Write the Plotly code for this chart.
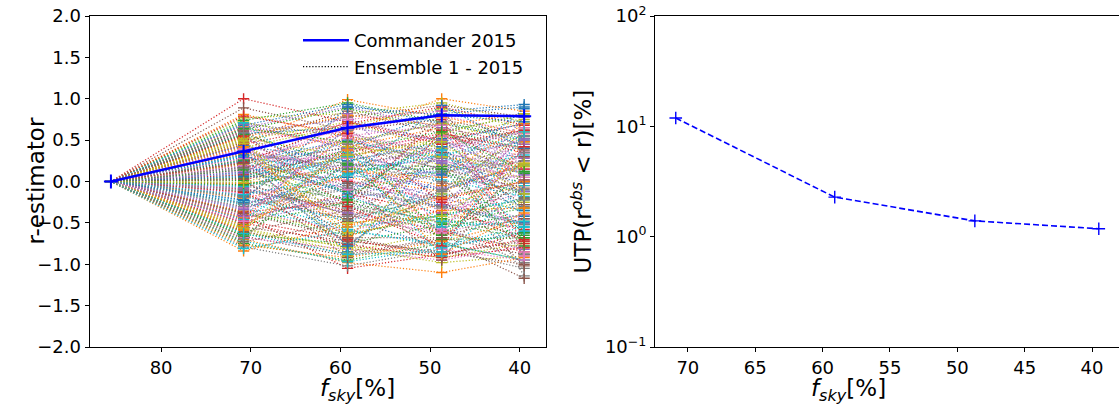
import plotly.graph_objects as go

# ---- data ----
fsky = [85.6, 70.8, 59.2, 48.7, 39.5]
commander_r = [0.0, 0.36, 0.65, 0.80, 0.79]
utp_fsky = [70.9, 59.1, 48.7, 39.5]
utp_percent = [11.9, 2.28, 1.39, 1.18]

r_86 = 0.0
r_71 = [0.25, 0.81, -0.12, 1.00, 0.44, 0.89, -0.35, 0.05, -0.58, 0.31,
        -0.22, -0.84, 0.63, -0.41, 0.12, -0.66, 0.38, -0.05, 0.72, -0.28,
        0.18, 0.47, -0.75, 0.02, -0.49, 0.56, -0.15, 0.28, -0.62, 0.09,
        0.68, 0.22, -0.38, -0.09, 0.51, -0.55, 0.15, -0.31, 0.77, -0.18,
        0.35, -0.70, 0.04, -0.45, 0.60, -0.02, 0.27, -0.79, 0.41, -0.25,
        0.11, 0.66, -0.52, 0.20, -0.11, 0.48, -0.68, 0.33, -0.36, 0.07,
        0.58, -0.20, 0.74, -0.47, 0.14, -0.60, 0.39, -0.07, 0.53, -0.33,
        0.24, -0.77, 0.01, 0.45, -0.43, 0.17, -0.14, 0.70, -0.57, 0.30,
        -0.26, 0.54, -0.64, 0.08, 0.36, -0.39, 0.62, -0.10, 0.21, -0.72,
        0.43, -0.03, 0.26, -0.50, 0.65, -0.17, 0.13, -0.30, 0.50, -0.81,
        0.32, -0.44, 0.57, -0.13, 0.69, -0.61, 0.19, -0.27, 0.46, -0.06,
        0.29, -0.53, 0.64, -0.37, 0.10, -0.73, 0.40, -0.19, 0.52, -0.46,
        0.06, 0.34, -0.66, 0.23, -0.08, 0.61, -0.32, 0.16, -0.56, 0.71,
        -0.23, 0.42, -0.04, 0.55, -0.42, 0.03, 0.28, -0.69, 0.49, -0.16,
        0.37, -0.59, 0.14, 0.79, -0.34, 0.22, -0.48, 0.59, -0.01, -0.63]
r_59 = [0.40, 0.55, -0.30, 0.72, 0.10, 0.62, -0.60, 0.25, -0.85, 0.05,
        -0.45, -0.52, 0.88, -1.05, 0.35, -0.90, 0.15, -0.28, 0.45, 0.08,
        -0.12, 0.99, -0.95, 0.30, -0.20, 0.78, 0.02, -0.05, -0.78, 0.48,
        0.93, 0.60, -0.65, -0.35, 0.20, -0.72, 0.52, -0.10, 0.82, -0.48,
        0.12, -0.98, 0.38, -0.15, 0.75, -0.40, 0.58, -1.02, 0.68, -0.55,
        0.32, 0.42, -0.25, 0.00, -0.38, 0.85, -0.82, 0.18, -0.62, 0.28,
        0.65, 0.05, 0.95, -0.70, -0.08, -0.88, 0.62, 0.22, 0.30, -0.58,
        0.50, -0.92, -0.22, 0.70, -0.18, 0.42, -0.42, 0.55, -0.80, 0.10,
        -0.02, 0.80, -0.75, 0.35, 0.15, -0.68, 0.45, -0.32, 0.48, -0.97,
        0.25, 0.18, -0.12, -0.76, 0.90, -0.45, 0.38, -0.08, 0.72, -0.60,
        -0.15, 0.58, 0.20, -0.72, 0.40, -0.35, 0.68, -0.05, -0.62, 0.30,
        -0.85, 0.12, 0.48, -0.25, 0.82, -0.48, -0.10, 0.62, -0.90, 0.35,
        0.05, -0.55, 0.22, 0.72, -0.38, -0.02, 0.55, -0.75, 0.42, -0.18,
        0.90, -0.66, 0.15, -0.30, 0.65, -0.92, 0.28, 0.45, -0.50, 0.08,
        -0.78, 0.38, -0.22, 0.58, 0.18, -0.68, 0.75, -0.42, 0.32, -0.88]
r_49 = [0.85, 0.30, -0.55, 0.50, -0.20, 0.75, -0.35, 0.45, -0.62, 0.12,
        -0.80, -0.28, 0.62, -0.88, 0.05, -0.70, 0.40, -0.48, 0.20, 0.32,
        -0.30, 0.78, -0.75, 0.55, -0.05, 0.92, -0.25, 0.18, -0.92, 0.28,
        0.70, 1.00, -0.40, -0.60, 0.38, -0.85, 0.25, -0.32, 0.95, -0.15,
        -0.10, -1.10, 0.60, -0.38, 0.48, -0.65, 0.35, -0.82, 0.88, -0.42,
        0.08, 0.65, -0.50, -0.22, -0.58, 0.58, -0.95, 0.42, -0.45, 0.02,
        0.82, -0.12, 0.72, -0.90, 0.15, -0.68, 0.80, 0.00, 0.52, -0.78,
        0.22, -0.72, -0.45, 0.90, 0.10, 0.15, -0.62, 0.35, -0.98, 0.32,
        -0.28, 0.68, -0.52, 0.58, -0.08, -0.88, 0.25, -0.55, 0.70, -0.80,
        0.48, -0.05, 0.12, -0.92, 0.65, -0.18, 0.55, -0.30, 0.40, -0.75,
        0.52, -0.72, 0.18, 0.62, -0.38, 0.85, -0.58, 0.28, -0.15, -0.90,
        0.42, 0.05, -0.65, 0.75, -0.28, 0.35, -0.82, 0.12, 0.58, -0.48,
        0.92, -0.20, -0.70, 0.45, 0.22, -0.95, 0.68, -0.10, 0.30, -0.55,
        0.80, -0.35, 0.15, -0.78, 0.50, -0.02, -0.62, 0.72, -0.42, 0.38,
        0.08, -0.88, 0.60, -0.25, 0.25, -0.68, 0.85, -0.12, 0.48, -0.85]
r_40 = [0.93, 0.10, -0.40, 0.70, -0.45, 0.55, -0.15, -1.14, -0.80, 0.32,
        -0.60, -0.05, 0.40, -0.70, 0.25, -1.17, 0.62, -0.28, 0.05, 0.48,
        -0.52, 0.58, -0.95, 0.35, 0.15, 0.78, -0.50, 0.42, -0.75, 0.10,
        0.50, 0.85, -0.22, -0.85, 0.60, -1.00, 0.02, -0.10, 0.72, -0.35,
        0.20, -0.92, 0.80, -0.58, 0.28, -0.45, 0.15, -1.05, 0.65, -0.20,
        -0.12, 0.45, -0.68, 0.00, -0.82, 0.38, -0.78, 0.62, -0.25, -0.18,
        0.90, 0.22, 0.52, -0.62, 0.35, -0.88, 0.58, -0.30, 0.75, -0.55,
        -0.02, -0.48, -0.65, 0.68, 0.30, -0.08, -0.40, 0.12, -0.90, 0.55,
        -0.50, 0.82, -0.32, 0.40, 0.08, -0.72, 0.05, -0.98, 0.48, -0.62,
        0.70, 0.18, -0.15, -0.80, 0.45, 0.00, 0.30, -0.52, 0.20, -0.95,
        -0.35, 0.48, -0.62, 0.15, 0.78, -0.20, 0.35, -0.88, 0.60, -0.05,
        -0.42, 0.70, 0.10, -0.75, 0.52, -0.28, -0.95, 0.25, 0.82, -0.55,
        0.40, 0.00, -0.68, 0.62, -0.12, 0.30, -0.85, 0.55, 0.18, -0.48,
        0.72, -0.32, -0.78, 0.42, 0.08, -1.02, 0.65, -0.22, 0.22, -0.60,
        0.88, -0.38, 0.12, -0.72, 0.50, 0.02, -0.90, 0.35, -0.15, 0.60]

x_ticks_left = [80, 70, 60, 50, 40]
x_ticks_right = [70, 65, 60, 55, 50, 45, 40]
y_ticks_left = [-2.0, -1.5, -1.0, -0.5, 0.0, 0.5, 1.0, 1.5, 2.0]
y_ticks_right = [0.1, 1, 10, 100]
y_ticktext_right = ["10<sup>\u22121</sup>", "10<sup>0</sup>", "10<sup>1</sup>", "10<sup>2</sup>"]

tab10 = ['#1f77b4', '#ff7f0e', '#2ca02c', '#d62728', '#9467bd',
         '#8c564b', '#e377c2', '#7f7f7f', '#bcbd22', '#17becf']

W, H = 1119, 405
FONT = "DejaVu Sans"
TOP, BOT = 16, 58
PH = H - TOP - BOT

fig = go.Figure()

for i in range(len(r_71)):
    c = tab10[i % 10]
    fig.add_trace(go.Scatter(
        x=fsky, y=[r_86, r_71[i], r_59[i], r_49[i], r_40[i]],
        mode="lines+markers", showlegend=False, hoverinfo="skip",
        line=dict(color=c, width=1.2, dash="1.2px,1.9px"),
        marker=dict(symbol="cross-thin", size=8, color=c, line=dict(width=1.4, color=c)),
        xaxis="x", yaxis="y"))

fig.add_trace(go.Scatter(
    x=fsky, y=commander_r, mode="lines", name="Commander 2015",
    line=dict(color="#0000ff", width=2.6), xaxis="x", yaxis="y"))
fig.add_trace(go.Scatter(
    x=fsky, y=commander_r, mode="markers", showlegend=False,
    marker=dict(symbol="cross-thin", size=10, color="#0000ff", line=dict(width=2, color="#0000ff")),
    xaxis="x", yaxis="y"))

fig.add_trace(go.Scatter(
    x=[None], y=[None], mode="lines", name="Ensemble 1 - 2015",
    line=dict(color="black", width=1.2, dash="1.2px,1.9px"), xaxis="x", yaxis="y"))

fig.add_trace(go.Scatter(
    x=utp_fsky, y=utp_percent, mode="lines+markers", showlegend=False,
    line=dict(color="#0000ff", width=1.6, dash="6px,3px"),
    marker=dict(symbol="cross-thin", size=9, color="#0000ff", line=dict(width=1.4, color="#0000ff")),
    xaxis="x2", yaxis="y2"))

L0, L1 = 89.5 / W, 545.5 / W
R0, R1 = 655.0 / W, 1.0

axis_common = dict(showline=True, linecolor="black", linewidth=1, mirror=True,
                   ticks="outside", ticklen=4, tickwidth=1, tickcolor="black",
                   showgrid=False, zeroline=False,
                   tickfont=dict(family=FONT, size=18, color="black"))

fig.update_layout(
    width=W, height=H,
    margin=dict(l=0, r=0, t=TOP, b=BOT, autoexpand=False),
    paper_bgcolor="white", plot_bgcolor="white",
    font=dict(family=FONT, color="black"),
    xaxis=dict(domain=[L0, L1], range=[87.99, 37.12], tickvals=x_ticks_left,
               anchor="y", **axis_common),
    yaxis=dict(domain=[0, 1], range=[-2, 2], tickvals=y_ticks_left, tickformat=".1f",
               anchor="x", **axis_common),
    xaxis2=dict(domain=[R0, R1], range=[72.44, 38.0], tickvals=x_ticks_right,
                anchor="y2", **axis_common),
    yaxis2=dict(domain=[0, 1], type="log", range=[-1, 2], tickvals=y_ticks_right,
                ticktext=y_ticktext_right, anchor="x2", **axis_common),
    legend=dict(x=298 / W, y=(H - BOT - 22) / PH, xanchor="left", yanchor="top",
                bgcolor="rgba(255,255,255,0)", borderwidth=0,
                font=dict(family=FONT, size=18, color="black"),
                itemwidth=46, tracegroupgap=0),
    annotations=[
        dict(text="r-estimator", x=20 / W, y=0.5, xref="paper", yref="paper",
             textangle=-90, showarrow=False, font=dict(family=FONT, size=23)),
        dict(text="<i>f</i><sub><i>sky</i></sub>[%]", x=318 / W, y=-(390 - (H - BOT)) / PH,
             xref="paper", yref="paper", showarrow=False, yanchor="middle",
             font=dict(family=FONT, size=23)),
        dict(text="UTP(r<sup><i>obs</i></sup> &lt; r)[%]", x=581 / W, y=0.5,
             xref="paper", yref="paper", textangle=-90, showarrow=False,
             font=dict(family=FONT, size=23)),
        dict(text="<i>f</i><sub><i>sky</i></sub>[%]", x=888 / W, y=-(390 - (H - BOT)) / PH,
             xref="paper", yref="paper", showarrow=False, yanchor="middle",
             font=dict(family=FONT, size=23)),
    ],
)

fig.write_html("out.html")
